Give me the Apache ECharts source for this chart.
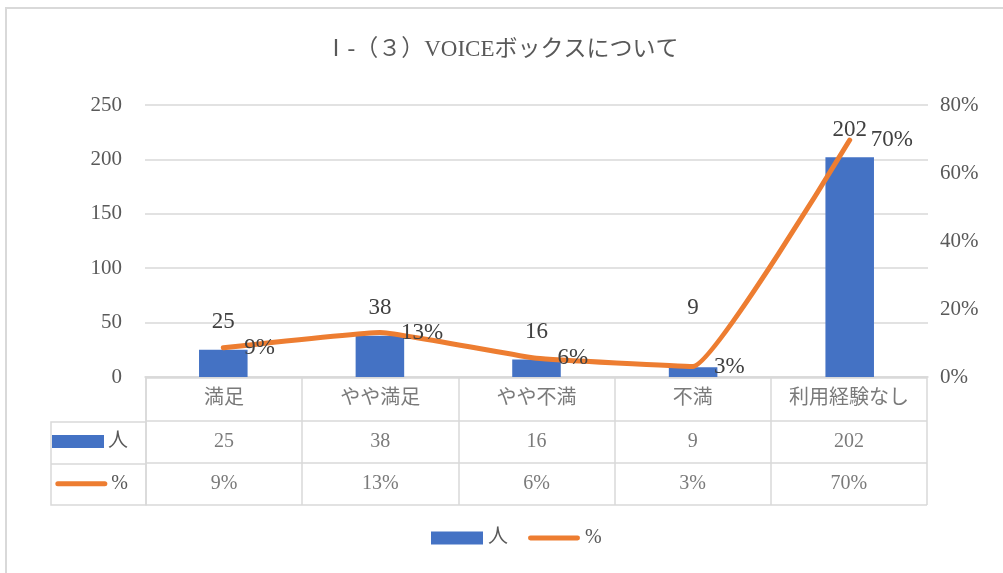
<!DOCTYPE html>
<html>
<head>
<meta charset="utf-8">
<script src="https://cdn.jsdelivr.net/npm/echarts@6/dist/echarts.min.js"></script>
<style>
  html, body { margin: 0; padding: 0; background: #fff; }
  #c1 { width: 1003px; height: 573px; }
</style>
</head>
<body>
<div id="c1"></div>
<script>
// data
const categories = ['満足', 'やや満足', 'やや不満', '不満', '利用経験なし']
const people = [25, 38, 16, 9, 202]
const percent = [8.6, 13.1, 5.5, 3.1, 69.7]
const leftTicks = [0, 50, 100, 150, 200, 250]
const rightTicks = [0, 20, 40, 60, 80]
const rowNames = ['', '人', '%']

const FONT = "'Liberation Serif', 'Noto Sans CJK JP', serif"
const GRAY = '#595959'
const LINE = '#d9d9d9'
const BLUE = '#4472c4'
const ORANGE = '#ed7d31'

const myChart = echarts.init(document.getElementById('c1'))

// table cells: header row + two value rows
const cells = []
categories.forEach((c, i) => {
  cells.push({ value: [c, ''], text: c })
  cells.push({ value: [c, '人'], text: String(people[i]) })
  cells.push({ value: [c, '%'], text: Math.round(percent[i]) + '%' })
})

const option = {
  backgroundColor: '#fff',
  title: {
    text: 'Ⅰ-（３）VOICEボックスについて',
    left: 'center',
    top: 33,
    textStyle: { fontFamily: FONT, fontSize: 23, fontWeight: 'normal', color: GRAY }
  },
  legend: {
    bottom: 20,
    left: 426,
    itemWidth: 52,
    itemHeight: 13,
    itemGap: 20,
    textStyle: { fontFamily: FONT, fontSize: 20, color: GRAY },
    data: [
      { name: '人', icon: 'rect' },
      { name: '%', icon: 'path://M2,0h48a2,2 0 0 1 0,5h-48a2,2 0 0 1 0,-5z', itemStyle: { color: ORANGE, opacity: 1 } }
    ]
  },
  grid: [
    { left: 145, right: 75, top: 105, bottom: 196 },
    { left: 146, right: 76, top: 378, bottom: 68 }
  ],
  xAxis: [
    {
      type: 'category',
      gridIndex: 0,
      data: categories,
      axisLine: { lineStyle: { color: LINE, width: 1.5 } },
      axisTick: { show: false },
      axisLabel: { show: false }
    },
    {
      type: 'category',
      gridIndex: 1,
      data: categories,
      position: 'top',
      axisLine: { show: false },
      axisTick: { show: false },
      axisLabel: { show: false },
      splitLine: { show: true, lineStyle: { color: LINE, width: 1.5 } }
    }
  ],
  yAxis: [
    {
      type: 'value',
      gridIndex: 0,
      min: leftTicks[0],
      max: leftTicks[leftTicks.length - 1],
      interval: 50,
      axisLine: { show: false },
      axisTick: { show: false },
      splitLine: { lineStyle: { color: LINE, width: 1.5 } },
      axisLabel: { fontFamily: FONT, fontSize: 21, color: GRAY, margin: 23 }
    },
    {
      type: 'value',
      gridIndex: 0,
      min: rightTicks[0],
      max: rightTicks[rightTicks.length - 1],
      interval: 20,
      position: 'right',
      axisLine: { show: false },
      axisTick: { show: false },
      splitLine: { show: false },
      axisLabel: { fontFamily: FONT, fontSize: 21, color: GRAY, margin: 12, formatter: '{value}%' }
    },
    {
      type: 'category',
      gridIndex: 1,
      data: rowNames,
      inverse: true,
      axisLine: { show: true, lineStyle: { color: LINE, width: 1.5 } },
      axisTick: { show: false },
      splitLine: { show: true, lineStyle: { color: LINE, width: 1.5 } },
      axisLabel: {
        margin: 18,
        formatter: (v) => {
          if (v === '人') return '{bar|}{t|人}'
          if (v === '%') return '{ln|}{t|%}'
          return ''
        },
        rich: {
          bar: { width: 52, height: 13, backgroundColor: BLUE },
          ln: { width: 52, height: 5, backgroundColor: ORANGE, borderRadius: 3 },
          t: { fontFamily: FONT, fontSize: 20, color: GRAY, padding: [0, 0, 0, 4] }
        }
      }
    }
  ],
  graphic: [
    {
      type: 'rect',
      shape: { x: 6, y: 8, width: 1000, height: 600 },
      style: { fill: 'none', stroke: LINE, lineWidth: 2 },
      silent: true
    },
    {
      type: 'polyline',
      shape: { points: [[146, 422], [51, 422], [51, 505], [146, 505]] },
      style: { fill: 'none', stroke: LINE, lineWidth: 1.5 },
      silent: true
    },
    {
      type: 'line',
      shape: { x1: 51, y1: 464, x2: 146, y2: 464 },
      style: { stroke: LINE, lineWidth: 1.5 },
      silent: true
    }
  ],
  series: [
    {
      name: '人',
      type: 'bar',
      xAxisIndex: 0,
      yAxisIndex: 0,
      barWidth: '31%',
      itemStyle: { color: BLUE },
      data: people.map((v, i) => i === 3
        ? { value: v, label: { offset: [0, -32] } }
        : v),
      label: {
        show: true,
        position: 'top',
        distance: 16,
        fontFamily: FONT,
        fontSize: 23,
        color: '#404040'
      }
    },
    {
      name: '%',
      type: 'line',
      xAxisIndex: 0,
      yAxisIndex: 1,
      smooth: 0.1,
      symbol: 'circle',
      symbolSize: 2,
      showSymbol: true,
      lineStyle: { color: ORANGE, width: 5, cap: 'round' },
      itemStyle: { color: ORANGE },
      data: percent,
      label: {
        show: true,
        position: 'right',
        distance: 20,
        offset: [0, 3],
        fontFamily: FONT,
        fontSize: 23,
        color: '#404040',
        formatter: (p) => Math.round(p.value) + '%'
      },
      labelLayout: { hideOverlap: false },
      z: 3
    },
    {
      name: 'table',
      type: 'scatter',
      xAxisIndex: 1,
      yAxisIndex: 2,
      symbolSize: 0,
      silent: true,
      data: cells,
      label: {
        show: true,
        position: 'inside',
        fontFamily: FONT,
        fontSize: 20,
        color: GRAY,
        formatter: (p) => p.data.text
      }
    }
  ]
}
myChart.setOption(option)
</script>
</body>
</html>
